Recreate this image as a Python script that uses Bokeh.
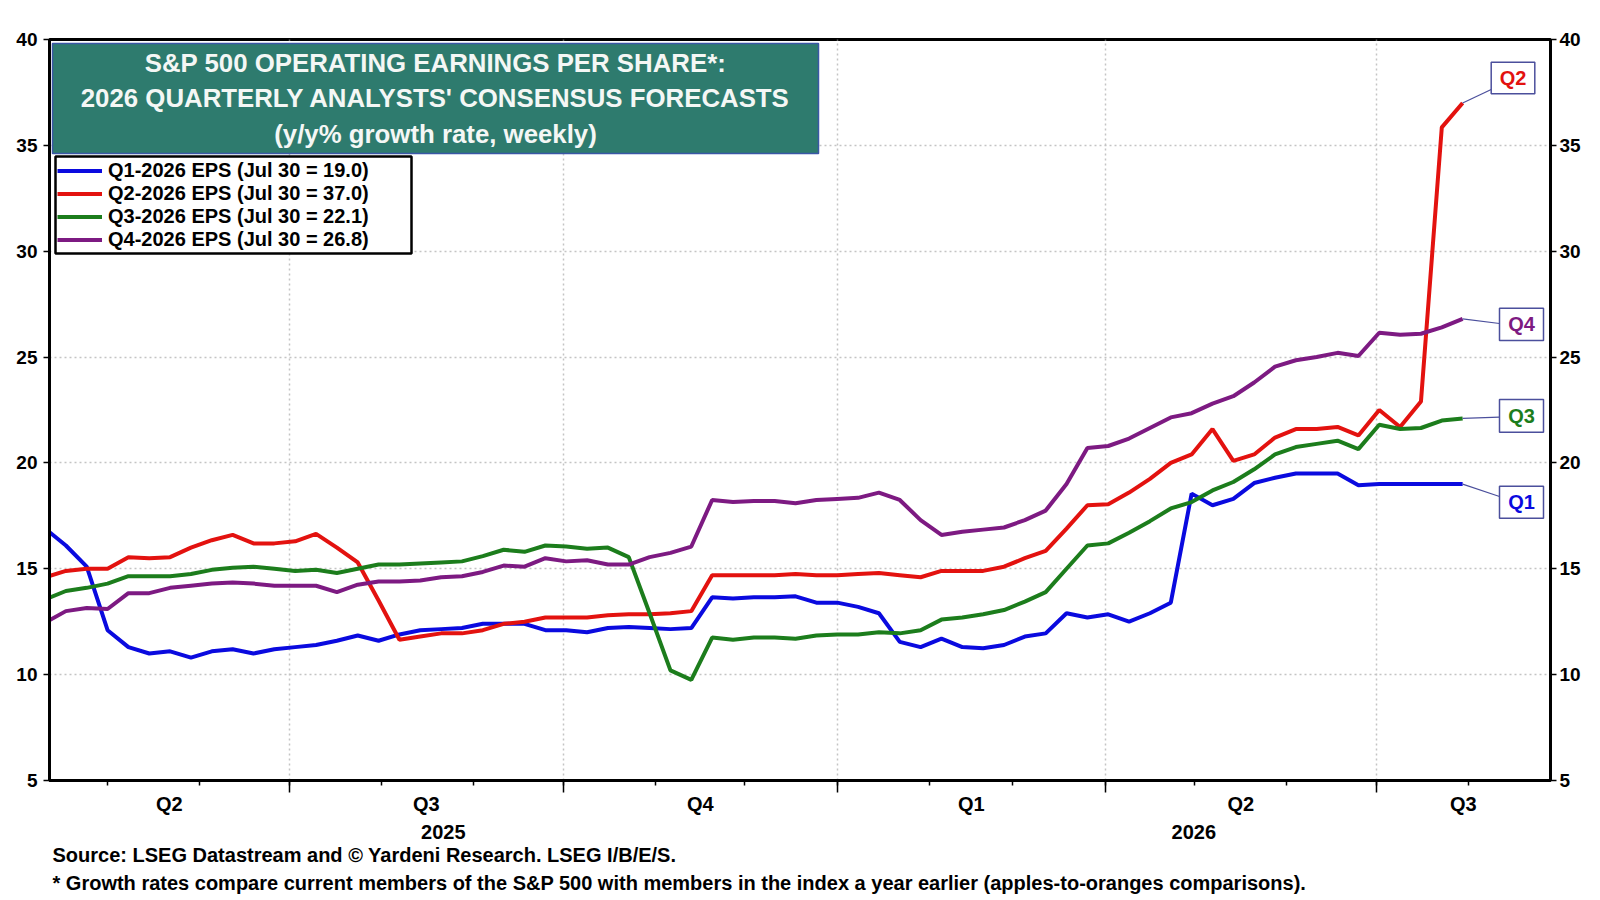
import pandas as pd
from bokeh.plotting import figure
from bokeh.models import (Range1d, FixedTicker, LinearAxis, BoxAnnotation, Label,
                          Legend, LegendItem, Arrow, CustomJSTickFormatter, Title)
from bokeh.embed import file_html
from bokeh.resources import INLINE

# ---------------- data (weekly, y/y % growth) ----------------
first_week = "2025-04-10"
series_names = ["Q1-2026 EPS", "Q2-2026 EPS", "Q3-2026 EPS", "Q4-2026 EPS"]
short_names = ["Q1", "Q2", "Q3", "Q4"]

q1_2026 = [16.9, 16.1, 15.1, 12.1, 11.3, 11.0, 11.1, 10.8, 11.1, 11.2,
           11.0, 11.2, 11.3, 11.4, 11.6, 11.85, 11.6, 11.9, 12.1, 12.15,
           12.2, 12.4, 12.4, 12.4, 12.1, 12.1, 12.0, 12.2, 12.25, 12.2,
           12.15, 12.2, 13.65, 13.6, 13.65, 13.65, 13.7, 13.4, 13.4, 13.2,
           12.9, 11.55, 11.3, 11.7, 11.3, 11.25, 11.4, 11.8, 11.95, 12.9,
           12.7, 12.85, 12.5, 12.9, 13.4, 18.55, 18.0, 18.3, 19.05, 19.3,
           19.5, 19.5, 19.5, 18.95, 19.0, 19.0, 19.0, 19.0, 19.0]
q2_2026 = [14.6, 14.9, 15.0, 15.0, 15.55, 15.5, 15.55, 16.0, 16.35, 16.6,
           16.2, 16.2, 16.3, 16.65, 16.0, 15.3, 13.5, 11.65, 11.8, 11.95,
           11.95, 12.1, 12.4, 12.5, 12.7, 12.7, 12.7, 12.8, 12.85, 12.85,
           12.9, 13.0, 14.7, 14.7, 14.7, 14.7, 14.75, 14.7, 14.7, 14.75,
           14.8, 14.7, 14.6, 14.9, 14.9, 14.9, 15.1, 15.5, 15.85, 16.9,
           18.0, 18.05, 18.6, 19.25, 20.0, 20.4, 21.6, 20.1, 20.4, 21.2,
           21.6, 21.6, 21.7, 21.3, 22.5, 21.7, 22.9, 35.85, 37.0]
q3_2026 = [13.55, 13.95, 14.1, 14.3, 14.65, 14.65, 14.65, 14.75, 14.95, 15.05,
           15.1, 15.0, 14.9, 14.95, 14.8, 15.0, 15.2, 15.2, 15.25, 15.3,
           15.35, 15.6, 15.9, 15.8, 16.1, 16.05, 15.95, 16.0, 15.55, 12.9,
           10.2, 9.75, 11.75, 11.65, 11.75, 11.75, 11.7, 11.85, 11.9, 11.9,
           12.0, 11.95, 12.1, 12.6, 12.7, 12.85, 13.05, 13.45, 13.9, 15.0,
           16.1, 16.2, 16.7, 17.25, 17.85, 18.15, 18.7, 19.1, 19.7, 20.4,
           20.75, 20.9, 21.05, 20.65, 21.8, 21.6, 21.65, 22.0, 22.1]
q4_2026 = [12.45, 13.0, 13.15, 13.1, 13.85, 13.85, 14.1, 14.2, 14.3, 14.35,
           14.3, 14.2, 14.2, 14.2, 13.9, 14.25, 14.4, 14.4, 14.45, 14.6,
           14.65, 14.85, 15.15, 15.1, 15.5, 15.35, 15.4, 15.2, 15.2, 15.55,
           15.75, 16.05, 18.25, 18.15, 18.2, 18.2, 18.1, 18.25, 18.3, 18.35,
           18.6, 18.25, 17.3, 16.6, 16.75, 16.85, 16.95, 17.3, 17.75, 19.0,
           20.7, 20.8, 21.15, 21.65, 22.15, 22.35, 22.8, 23.15, 23.8, 24.55,
           24.85, 25.0, 25.2, 25.05, 26.15, 26.05, 26.1, 26.4, 26.8]

y_ticks = [5, 10, 15, 20, 25, 30, 35, 40]
quarter_starts = ["2025-04-01", "2025-07-01", "2025-10-01", "2026-01-01",
                  "2026-04-01", "2026-07-01", "2026-10-01"]
quarter_labels = ["Q2", "Q3", "Q4", "Q1", "Q2", "Q3"]
year_starts = ["2025-01-01", "2026-01-01", "2027-01-01"]
year_labels = ["2025", "2026"]
title_lines = ["S&P 500 OPERATING EARNINGS PER SHARE*:",
               "2026 QUARTERLY ANALYSTS' CONSENSUS FORECASTS",
               "(y/y% growth rate, weekly)"]
source_text = "Source: LSEG Datastream and \u00a9 Yardeni Research. LSEG I/B/E/S."
note_text = ("* Growth rates compare current members of the S&P 500 with members "
             "in the index a year earlier (apples-to-oranges comparisons).")
x_start, x_end = "2025-04-11 12:00", "2026-08-28 12:00"

# ---------------- styling ----------------
FONT = "Liberation Sans"
colors = ["#0a0adf", "#e3120f", "#1c7d1c", "#7d1a82"]
box_edge = "#4b4f9c"

series = [q1_2026, q2_2026, q3_2026, q4_2026]
dates = pd.date_range(first_week, periods=len(q1_2026), freq="7D")
last_label = dates[-1].strftime("%b %-d")


def ms(d):
    return int(pd.Timestamp(d).value // 1_000_000)


W, H = 1600, 900
L, R, T, B = 49, 50, 39, 120
FW, FH = W - L - R, H - T - B

p = figure(width=W, height=H, output_backend="svg", toolbar_location=None,
           x_axis_type="datetime",
           x_range=Range1d(pd.Timestamp(x_start), pd.Timestamp(x_end)),
           y_range=Range1d(y_ticks[0], y_ticks[-1]),
           min_border_left=L, min_border_right=R, min_border_top=T,
           min_border_bottom=B)
p.background_fill_color = "white"
p.border_fill_color = "white"
p.outline_line_color = "black"
p.outline_line_width = 3

xs, xe = pd.Timestamp(x_start), pd.Timestamp(x_end)

# x axis A: quarter boundaries (major) & months (minor), no labels
months = pd.date_range("2025-05-01", "2026-08-01", freq="MS")
qb = [ms(d) for d in quarter_starts if xs < pd.Timestamp(d) < xe]
ax = p.xaxis[0]
ax.ticker = FixedTicker(ticks=qb, minor_ticks=[ms(d) for d in months])
ax.formatter = CustomJSTickFormatter(code="return ''")
ax.major_label_text_font_size = "1px"
ax.major_label_standoff = 0
ax.axis_line_width = 3
ax.major_tick_out = 12
ax.major_tick_in = 0
ax.minor_tick_out = 5
ax.minor_tick_in = 0
ax.major_tick_line_width = 1.5
ax.minor_tick_line_width = 1.5
p.xgrid.ticker = FixedTicker(ticks=qb)
p.xgrid.grid_line_color = "#c4c4c4"
p.xgrid.grid_line_dash = "2 3"
p.xgrid.grid_line_width = 1.5


def label_axis(starts, labels, standoff):
    pos, mapping = [], {}
    for k, lab in enumerate(labels):
        a = max(pd.Timestamp(starts[k]), xs)
        b = min(pd.Timestamp(starts[k + 1]), xe)
        m = (ms(a) + ms(b)) // 2
        pos.append(m)
        mapping[str(m)] = lab
    a2 = LinearAxis(ticker=FixedTicker(ticks=pos, minor_ticks=[]),
                    formatter=CustomJSTickFormatter(args=dict(lab=mapping),
                                                    code="return lab[String(Math.round(tick))] || ''"))
    a2.axis_line_color = None
    a2.major_tick_line_color = None
    a2.minor_tick_line_color = None
    a2.major_tick_out = 0
    a2.major_tick_in = 0
    a2.minor_tick_out = 0
    a2.minor_tick_in = 0
    a2.major_label_standoff = standoff
    a2.major_label_text_font = FONT
    a2.major_label_text_font_style = "bold"
    a2.major_label_text_font_size = "20px"
    a2.major_label_text_color = "black"
    p.add_layout(a2, "below")


label_axis(quarter_starts, quarter_labels, 0)
label_axis(year_starts, year_labels, 7)

for txt, so in [(source_text, 1), (note_text, 6)]:
    p.add_layout(Title(text=txt, align="left", offset=3, standoff=so,
                       text_font=FONT, text_font_style="bold",
                       text_font_size="20px", text_color="black"), "below")


# y axes
def style_y(axy, standoff):
    axy.ticker = FixedTicker(ticks=y_ticks)
    axy.axis_line_width = 3
    axy.major_tick_out = 6
    axy.major_tick_in = 0
    axy.minor_tick_out = 0
    axy.minor_tick_in = 0
    axy.major_tick_line_width = 1.5
    axy.major_label_text_font = FONT
    axy.major_label_text_font_style = "bold"
    axy.major_label_text_font_size = "19px"
    axy.major_label_text_color = "black"
    axy.major_label_standoff = standoff


style_y(p.yaxis[0], 6)
right_axis = LinearAxis()
style_y(right_axis, 3)
p.add_layout(right_axis, "right")
p.ygrid.ticker = FixedTicker(ticks=y_ticks)
p.ygrid.grid_line_color = "#c4c4c4"
p.ygrid.grid_line_dash = "2 3"
p.ygrid.grid_line_width = 1.5

# lines
renderers = []
for vals, c in zip(series, colors):
    renderers.append(p.line(dates, vals, line_color=c, line_width=4))


def screen_box(l_, r_, t_, b_, **kw):
    return BoxAnnotation(left=l_, right=r_, top=t_, bottom=b_,
                         left_units="screen", right_units="screen",
                         top_units="screen", bottom_units="screen",
                         fill_alpha=1, line_alpha=1, level="annotation", **kw)


# title box
p.add_layout(screen_box(3, 769, FH - 4, FH - 114, fill_color="#2e7b6e",
                        line_color="#3b57a6", line_width=1.5))
for k, t in enumerate(title_lines):
    p.add_layout(Label(x=386, y=FH - 23 - 35.8 * k, x_units="screen", y_units="screen",
                       text=t, text_align="center", text_baseline="middle",
                       text_font=FONT, text_font_style="bold", text_font_size="25.8px",
                       text_color="#f4f7f5"))

# legend
p.add_layout(screen_box(6, 362, FH - 117, FH - 214, fill_color="white",
                        line_color="black", line_width=2.5))
items = [LegendItem(label=f"{nm} ({last_label} = {vals[-1]:.1f})", renderers=[r])
         for nm, vals, r in zip(series_names, series, renderers)]
legend = Legend(items=items, location=(8, FH - 211.5), padding=2, spacing=0,
                margin=0, glyph_width=45, glyph_height=23, label_height=23,
                label_standoff=6, border_line_color=None, background_fill_alpha=0,
                label_text_font=FONT, label_text_font_style="bold",
                label_text_font_size="20px", label_text_color="black")
p.add_layout(legend)

# end-of-line tags with leader lines (screen positions relative to the frame)
tag_boxes = {"Q2": (1441.7, 1485.3, 718.3, 686.7, 691.0),
             "Q4": (1450.0, 1494.0, 472.3, 440.0, 457.0),
             "Q3": (1450.0, 1494.0, 381.0, 348.3, 363.3),
             "Q1": (1450.0, 1494.0, 294.3, 262.3, 284.0)}
for nm, vals, c in zip(short_names, series, colors):
    l_, r_, t_, b_, ly = tag_boxes[nm]
    p.add_layout(Arrow(x_start=ms(dates[-1]), y_start=vals[-1], start_units="data",
                       x_end=l_, y_end=ly, end_units="screen", end=None,
                       line_color=box_edge, line_width=1.2))
    p.add_layout(screen_box(l_, r_, t_, b_, fill_color="white",
                            line_color=box_edge, line_width=1.5))
    p.add_layout(Label(x=(l_ + r_) / 2, y=(t_ + b_) / 2, x_units="screen", y_units="screen",
                       text=nm, text_align="center", text_baseline="middle",
                       text_font=FONT, text_font_style="bold", text_font_size="20px",
                       text_color=c))

open("out.html", "w").write(file_html(p, INLINE))
